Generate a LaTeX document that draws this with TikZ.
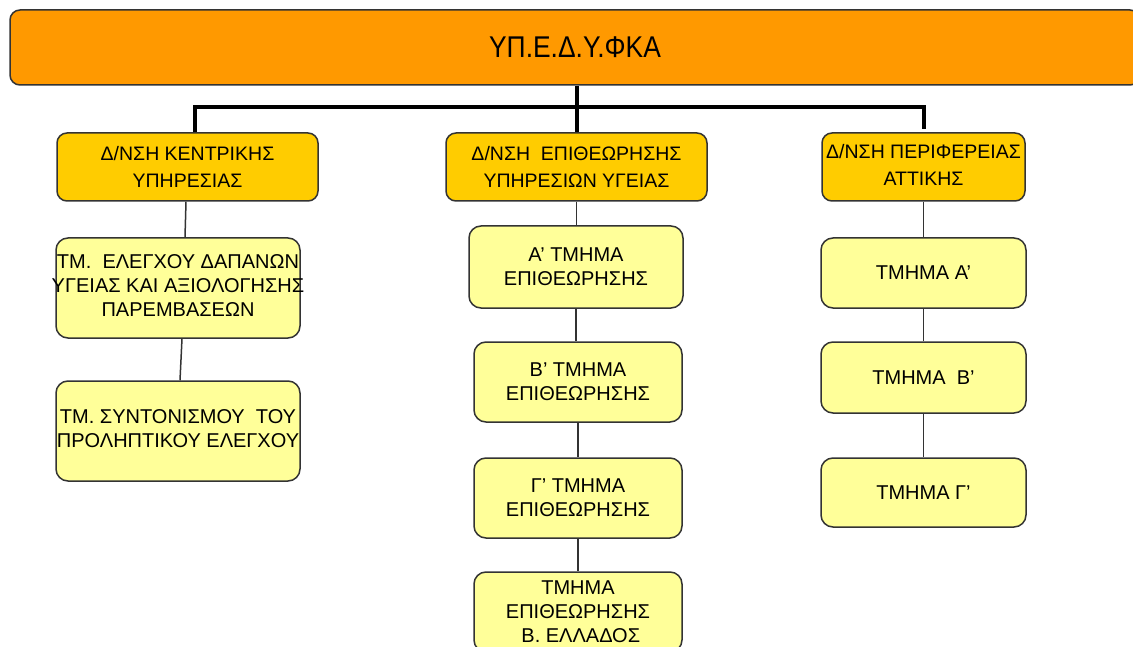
\documentclass[tikz,border=0pt]{standalone}
\usepackage{fontspec}
\setmainfont{Liberation Sans}
\newfontfamily\titlefont[FakeStretch=0.88]{Liberation Sans}
\usetikzlibrary{calc}
\definecolor{topc}{HTML}{FF9900}
\definecolor{midc}{HTML}{FFCC00}
\definecolor{lowc}{HTML}{FFFF99}
\definecolor{edgec}{HTML}{333333}
\newcommand{\ovtext}[2]{\makebox[#1]{\begin{tabular}{@{}c@{}}#2\end{tabular}}}
\tikzset{
  topbox/.style={draw=edgec, line width=1.5pt, fill=topc, rounded corners=10pt,
    minimum width=1130pt, minimum height=75pt, inner sep=0pt,
    font=\titlefont\fontsize{30}{32}\selectfont},
  headbox/.style={draw=edgec, line width=1.5pt, fill=midc, rounded corners=10pt,
    minimum height=68pt, inner sep=0pt, align=center,
    font=\fontsize{19.5}{27}\selectfont},
  unitbox/.style={draw=edgec, line width=1.5pt, fill=lowc, rounded corners=12pt,
    inner sep=0pt, align=center, font=\fontsize{20}{24}\selectfont},
  thick link/.style={line width=4pt, black},
  thin link/.style={line width=1.5pt, edgec}
}
\begin{document}
\begin{tikzpicture}[x=1pt, y=-1pt]
\clip (0,0) rectangle (1133,647);
\fill[white] (0,0) rectangle (1133,647);

\node[topbox] (top) at (575,47.5) {ΥΠ.Ε.Δ.Υ.ΦΚΑ};

\node[headbox, minimum width=261pt] (l2a) at (187.5,167) {Δ/ΝΣΗ ΚΕΝΤΡΙΚΗΣ\\ΥΠΗΡΕΣΙΑΣ};
\node[headbox, minimum width=261pt] (l2b) at (576.5,167) {Δ/ΝΣΗ \ ΕΠΙΘΕΩΡΗΣΗΣ\\ΥΠΗΡΕΣΙΩΝ ΥΓΕΙΑΣ};
\node[headbox, minimum width=203pt] (l2c) at (923.5,167) {\ovtext{190pt}{Δ/ΝΣΗ ΠΕΡΙΦΕΡΕΙΑΣ\\ΑΤΤΙΚΗΣ}};

\node[unitbox, minimum width=244pt, minimum height=100pt] (c1) at (178,288)
  {\ovtext{230pt}{ΤΜ. \ ΕΛΕΓΧΟΥ ΔΑΠΑΝΩΝ\\ΥΓΕΙΑΣ ΚΑΙ ΑΞΙΟΛΟΓΗΣΗΣ\\ΠΑΡΕΜΒΑΣΕΩΝ}};
\node[unitbox, minimum width=244pt, minimum height=100pt] (c2) at (178,431)
  {\ovtext{230pt}{ΤΜ. ΣΥΝΤΟΝΙΣΜΟΥ \ ΤΟΥ\\ΠΡΟΛΗΠΤΙΚΟΥ ΕΛΕΓΧΟΥ}};

\node[unitbox, minimum width=214pt, minimum height=82pt] (m1) at (576,267) {Α’ ΤΜΗΜΑ\\ΕΠΙΘΕΩΡΗΣΗΣ};
\node[unitbox, minimum width=208pt, minimum height=80pt] (m2) at (578,382) {Β’ ΤΜΗΜΑ\\ΕΠΙΘΕΩΡΗΣΗΣ};
\node[unitbox, minimum width=208pt, minimum height=80pt] (m3) at (578,498) {Γ’ ΤΜΗΜΑ\\ΕΠΙΘΕΩΡΗΣΗΣ};
\node[unitbox, minimum width=208pt, minimum height=80pt] (m4) at (578,612) {ΤΜΗΜΑ\\ΕΠΙΘΕΩΡΗΣΗΣ\\ \ Β. ΕΛΛΑΔΟΣ};

\node[unitbox, minimum width=205pt, minimum height=70pt] (r1) at (923.5,273) {ΤΜΗΜΑ Α’};
\node[unitbox, minimum width=205pt, minimum height=71pt] (r2) at (923.5,377.5) {ΤΜΗΜΑ \ Β’};
\node[unitbox, minimum width=205pt, minimum height=69pt] (r3) at (923.5,492.5) {ΤΜΗΜΑ Γ’};

% thick connectors
\coordinate (bar) at (0,107);
\draw[thick link] (l2b.north |- top.south) -- (l2b.north);
\draw[thick link, line join=miter]
  ($(l2a.north)+(7.5,0)$) -- ($(l2a.north |- bar)+(7.5,0)$) -- (l2c.north |- bar) -- ($(l2c.north)+(0,-3)$);

% thin connectors
\draw[thin link] ($(l2a.south)+(-1.5,0)$) -- ($(c1.north)+(7,0)$);
\draw[thin link] ($(c1.south)+(4,0)$) -- ($(c2.north)+(2,0)$);
\draw[thin link] (l2b.south) -- (l2b.south |- m1.north);
\draw[thin link] (m1.south) -- (m1.south |- m2.north);
\draw[thin link] (m2.south) -- (m3.north);
\draw[thin link] (m3.south) -- (m4.north);
\draw[thin link] (l2c.south) -- (r1.north);
\draw[thin link] (r1.south) -- (r2.north);
\draw[thin link] (r2.south) -- (r3.north);
\end{tikzpicture}
\end{document}
